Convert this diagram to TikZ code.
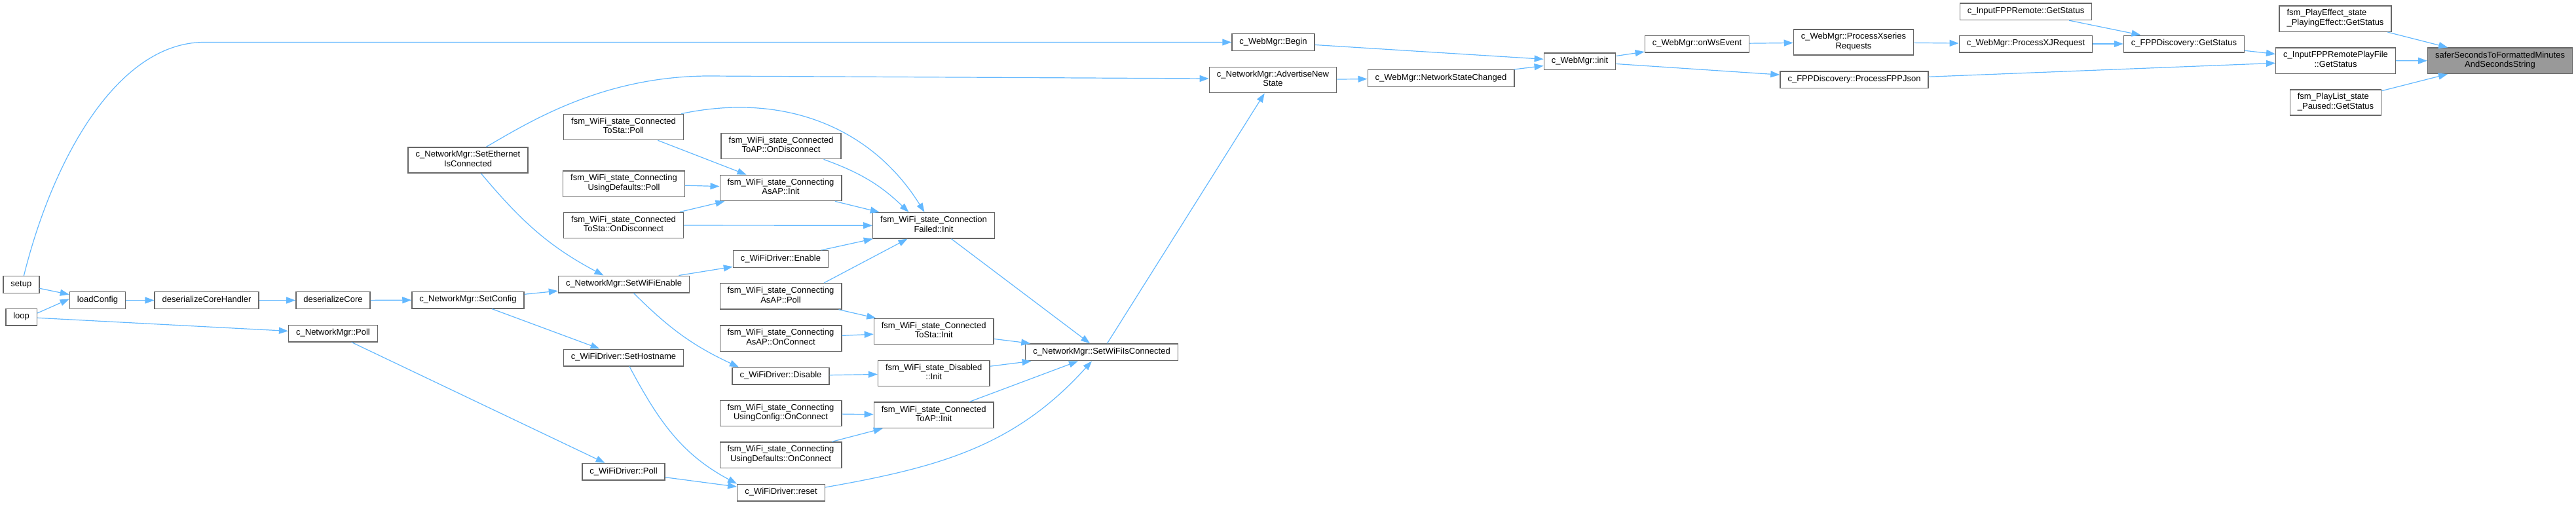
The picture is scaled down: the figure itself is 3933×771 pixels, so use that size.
\documentclass[tikz,border=0pt]{standalone}
\usepackage{fontspec}
\setmainfont{Liberation Sans}
\usepackage{xcolor}
\usetikzlibrary{arrows.meta}
\definecolor{edgeblue}{HTML}{63B8FF}
\definecolor{boxgrey}{HTML}{666666}
\definecolor{focusfill}{HTML}{999999}

\begin{document}
\begin{tikzpicture}[
  x=1pt, y=-1pt,
  fn/.style={draw=boxgrey, line width=1.4pt, fill=white, align=center, inner xsep=11.5pt, inner ysep=5.5pt, minimum height=25.6pt, font=\fontsize{13}{14.5}\selectfont, execute at begin node=\strut, execute at end node=\strut},
  fnl/.style={fn, align=left},
  focus/.style={fn, fill=focusfill},
  arr/.style={-{Triangle[length=14pt, width=10pt]}, draw=edgeblue, line width=1.2pt}
]
\useasboundingbox (0,0) rectangle (3933,771);
\node[fn] (setup) at (32.4,434.5) {setup};
\node[fn] (loop) at (32.6,484) {loop};
\node[fn] (loadcfg) at (149,458.5) {loadConfig};
\node[fn] (deshandler) at (315.6,458.5) {deserializeCoreHandler};
\node[fn] (descore) at (508.5,458.5) {deserializeCore};
\node[fn] (nmpoll) at (508.5,509) {c\_NetworkMgr::Poll};
\node[fn] (seteth) at (714.5,244.5) {c\_NetworkMgr::SetEthernet\\IsConnected};
\node[fn] (setcfg) at (714.5,458) {c\_NetworkMgr::SetConfig};
\node[fn] (wifien) at (952.5,434) {c\_NetworkMgr::SetWiFiEnable};
\node[fn] (sethost) at (952,546) {c\_WiFiDriver::SetHostname};
\node[fn] (drvpoll) at (952,720.3) {c\_WiFiDriver::Poll};
\node[fn] (stapoll) at (952,194) {fsm\_WiFi\_state\_Connected\\ToSta::Poll};
\node[fn] (defpoll) at (952.5,280.7) {fsm\_WiFi\_state\_Connecting\\UsingDefaults::Poll};
\node[fn] (stadisc) at (952,344) {fsm\_WiFi\_state\_Connected\\ToSta::OnDisconnect};
\node[fn] (apdisc) at (1192.5,223) {fsm\_WiFi\_state\_Connected\\ToAP::OnDisconnect};
\node[fn] (asapinit) at (1192,287) {fsm\_WiFi\_state\_Connecting\\AsAP::Init};
\node[fn] (drven) at (1192,395.5) {c\_WiFiDriver::Enable};
\node[fn] (asappoll) at (1192,452.3) {fsm\_WiFi\_state\_Connecting\\AsAP::Poll};
\node[fn] (asapconn) at (1192,516.7) {fsm\_WiFi\_state\_Connecting\\AsAP::OnConnect};
\node[fn] (drvdis) at (1192,574) {c\_WiFiDriver::Disable};
\node[fn] (cfgconn) at (1192,631) {fsm\_WiFi\_state\_Connecting\\UsingConfig::OnConnect};
\node[fn] (defconn) at (1192,694.7) {fsm\_WiFi\_state\_Connecting\\UsingDefaults::OnConnect};
\node[fn] (drvreset) at (1192.5,752) {c\_WiFiDriver::reset};
\node[fn] (failinit) at (1425.5,344.3) {fsm\_WiFi\_state\_Connection\\Failed::Init};
\node[fn] (stainit) at (1425.7,506) {fsm\_WiFi\_state\_Connected\\ToSta::Init};
\node[fn] (disinit) at (1425.7,570) {fsm\_WiFi\_state\_Disabled\\::Init};
\node[fn] (apinit) at (1425.7,633.8) {fsm\_WiFi\_state\_Connected\\ToAP::Init};
\node[fn] (wificonn) at (1682,537.8) {c\_NetworkMgr::SetWiFiIsConnected};
\node[fn] (advstate) at (1943.5,122) {c\_NetworkMgr::AdvertiseNew\\State};
\node[fn] (webbegin) at (1944,64.5) {c\_WebMgr::Begin};
\node[fn] (netchg) at (2200,119.5) {c\_WebMgr::NetworkStateChanged};
\node[fn] (webinit) at (2412,93.8) {c\_WebMgr::init};
\node[fn] (onws) at (2591,67) {c\_WebMgr::onWsEvent};
\node[fn] (xseries) at (2830,64.5) {c\_WebMgr::ProcessXseries\\Requests};
\node[fn] (fppjson) at (2831,121.7) {c\_FPPDiscovery::ProcessFPPJson};
\node[fn] (remstat) at (3093,17.7) {c\_InputFPPRemote::GetStatus};
\node[fn] (xjreq) at (3093,67) {c\_WebMgr::ProcessXJRequest};
\node[fn] (discstat) at (3334.5,67) {c\_FPPDiscovery::GetStatus};
\node[fnl] (effstat) at (3565.5,28.7) {fsm\_PlayEffect\_state\\\_PlayingEffect::GetStatus};
\node[fn] (filestat) at (3566,92.7) {c\_InputFPPRemotePlayFile\\::GetStatus};
\node[fnl] (pausestat) at (3566,156.5) {fsm\_PlayList\_state\\\_Paused::GetStatus};
\node[focus] (safer) at (3817,92.8) {saferSecondsToFormattedMinutes\\AndSecondsString};
\draw[arr] ([xshift=4pt]setup.north) .. controls (81,241) and (180,64.5) .. (312,64.5) -- (webbegin.west);
\draw[arr] (setup) -- (loadcfg);
\draw[arr] ([yshift=6pt]loop.east) -- ([yshift=2pt]loadcfg.west);
\draw[arr] (loop) -- (nmpoll);
\draw[arr] (loadcfg) -- (deshandler);
\draw[arr] (deshandler) -- (descore);
\draw[arr] (descore) -- (setcfg);
\draw[arr] (nmpoll) -- (drvpoll);
\draw[arr] (setcfg) -- (wifien);
\draw[arr] (setcfg) -- (sethost);
\draw[arr] ([xshift=20pt]seteth.south) to[out=-50,in=152] ([xshift=-31pt]wifien.north);
\draw[arr] ([xshift=28pt]seteth.north) .. controls (810,185) and (920,117) .. (1080,116) -- ([yshift=2pt]advstate.west);
\draw[arr] (wifien) -- (drven);
\draw[arr] ([xshift=15pt]wifien.south) to[out=-45,in=155] ([xshift=-64pt]drvdis.north);
\draw[arr] ([xshift=9pt]sethost.south) to[out=-62,in=152] (drvreset.north west);
\draw[arr] (drvpoll) -- (drvreset);
\draw[arr] (stapoll) -- (asapinit);
\draw[arr] ([xshift=-4pt]stapoll.north east) to[out=12,in=122] ([xshift=-14pt]failinit.north);
\draw[arr] (defpoll) -- (asapinit);
\draw[arr] (stadisc) -- (asapinit);
\draw[arr] (stadisc) -- (failinit);
\draw[arr] ([xshift=65pt]apdisc.south) to[bend left=12] ([xshift=-38pt]failinit.north);
\draw[arr] (asapinit) -- (failinit);
\draw[arr] (drven) -- (failinit);
\draw[arr] ([xshift=66pt]asappoll.north) -- ([xshift=-40pt]failinit.south);
\draw[arr] (asappoll) -- (stainit);
\draw[arr] (asapconn) -- (stainit);
\draw[arr] (drvdis) -- (disinit);
\draw[arr] (cfgconn) -- (apinit);
\draw[arr] (defconn) -- (apinit);
\draw[arr] (failinit) -- (wificonn);
\draw[arr] (stainit) -- (wificonn);
\draw[arr] (disinit) -- (wificonn);
\draw[arr] (apinit) -- (wificonn);
\draw[arr] ([yshift=8pt]drvreset.east) to[out=10,in=-132] ([xshift=-15pt]wificonn.south);
\draw[arr] (wificonn) -- (advstate);
\draw[arr] (advstate) -- (netchg);
\draw[arr] (webbegin) -- (webinit);
\draw[arr] (netchg) -- (webinit);
\draw[arr] (webinit) -- (onws);
\draw[arr] (webinit) -- (fppjson);
\draw[arr] (onws) -- (xseries);
\draw[arr] (xseries) -- (xjreq);
\draw[arr] (xjreq) -- (discstat);
\draw[arr] (remstat) -- (discstat);
\draw[arr] (discstat) -- (filestat);
\draw[arr] (fppjson) -- (filestat);
\draw[arr] (effstat) -- (safer);
\draw[arr] (filestat) -- (safer);
\draw[arr] (pausestat) -- (safer);
\end{tikzpicture}
\end{document}
